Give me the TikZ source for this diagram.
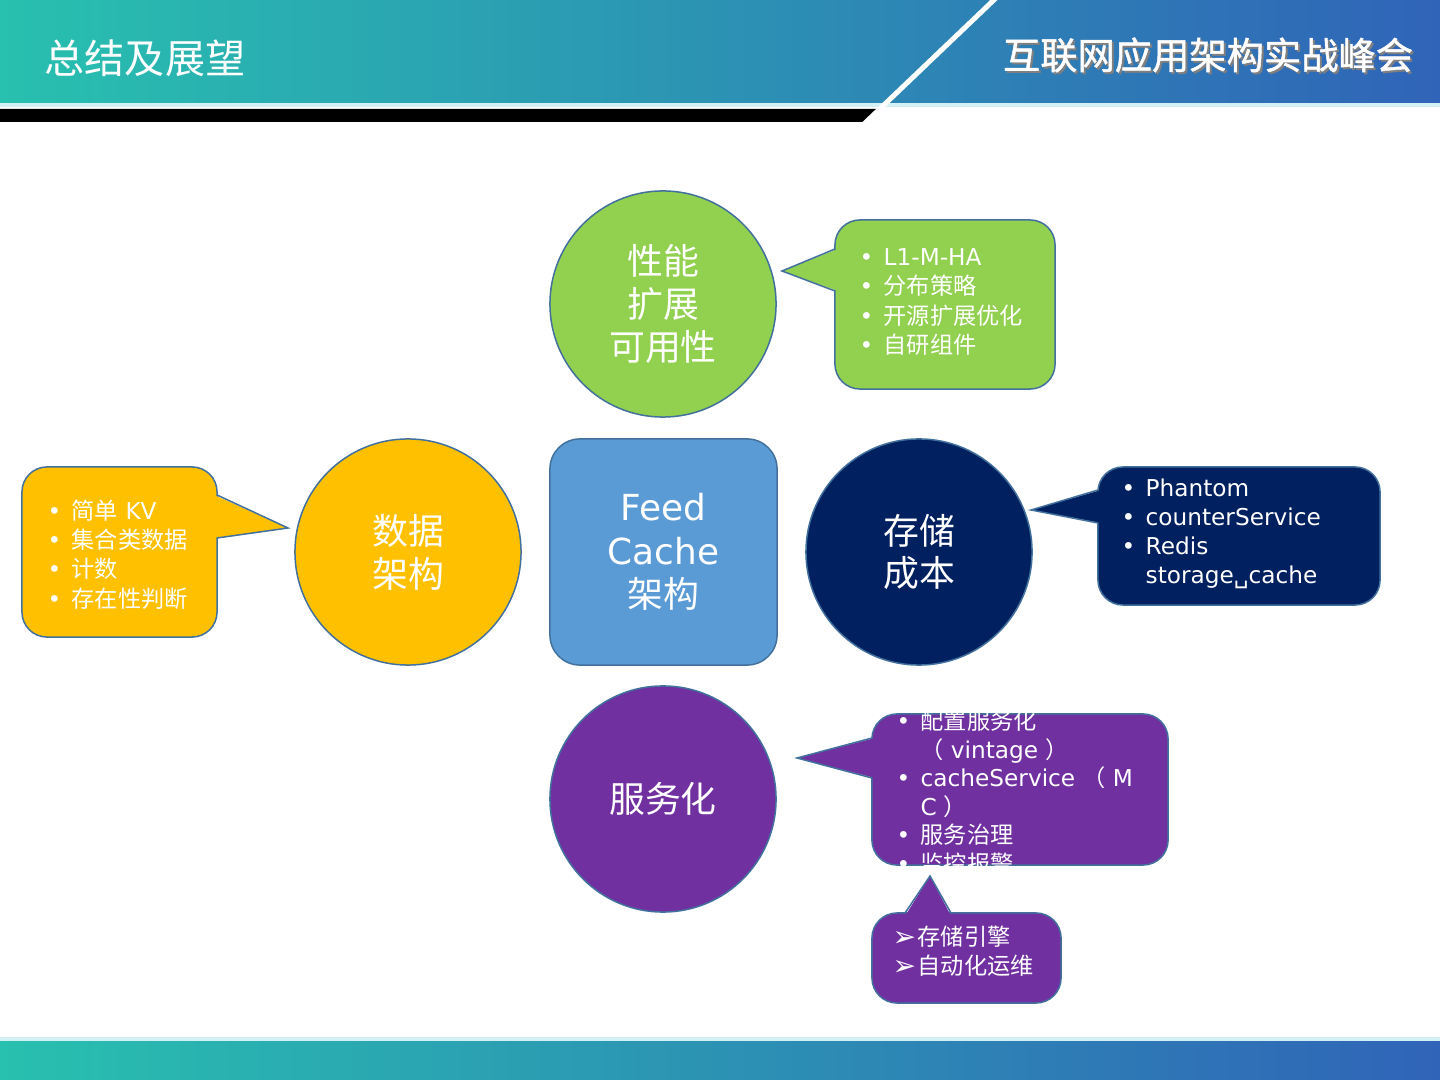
\documentclass[tikz,border=0pt]{standalone}
\usepackage{fontspec}
\setmainfont{DejaVu Sans}
\newfontfamily\cjk{Noto Sans CJK SC}
\newfontfamily\cjkbrand[FakeBold=1.2]{Noto Sans CJK SC}
\usetikzlibrary{shapes.geometric, positioning}
\definecolor{perfGreen}{HTML}{92D050}
\definecolor{dataOrange}{HTML}{FFC000}
\definecolor{costNavy}{HTML}{002060}
\definecolor{feedBlue}{HTML}{5B9BD5}
\definecolor{svcPurple}{HTML}{7030A0}
\definecolor{shapeEdge}{HTML}{41719C}
\definecolor{bandTeal}{HTML}{28C0AF}
\definecolor{bandMid}{HTML}{1C9DC0}
\definecolor{bandBlue}{HTML}{3064B8}
\definecolor{bandLine}{HTML}{D3F0F5}

\newcommand{\itm}{\makebox[0.24cm][l]{•}}
\newcommand{\ind}{\hspace{0.24cm}}
\newcommand{\arw}{\makebox[0.25cm][l]{\raisebox{-0.2pt}{\fontsize{8}{8}\selectfont ➢}}}
\newcommand{\paro}{{\cjk （}\hspace{0.07cm}}
\newcommand{\parc}{\hspace{0.07cm}{\cjk ）}}

\begin{document}
\begin{tikzpicture}[x=0.01cm, y=-0.01cm,
    topic/.style={circle, draw=shapeEdge, line width=0.015cm, minimum size=2.26cm, inner sep=0pt, text=white, align=center, font=\cjk\fontsize{10.2}{12.2}\selectfont},
    note/.style={draw=shapeEdge, line width=0.015cm, rounded corners=0.25cm, inner sep=0pt},
    notetext/.style={text=white, align=left, inner sep=0pt, anchor=west, font=\fontsize{6.6}{8.3}\selectfont},
    pointer/.style={draw=shapeEdge, line width=0.015cm},
]
    \useasboundingbox (0,0) rectangle (1440,1080);
    \fill[white] (0,0) rectangle (1440,1080);

    % header and footer bands
    \shade[left color=bandTeal, middle color=bandMid, right color=bandBlue] (0,0) rectangle (1440,103);
    \fill[bandLine] (0,103) rectangle (1440,107);
    \fill[black] (0,109) -- (877,109) -- (863,122) -- (0,122) -- cycle;
    \draw[white, line width=0.05cm] (997,-3) -- (864,124);
    \node[text=white, font=\cjk\fontsize{11.4}{13}\selectfont] (title) at (145,58) {总结及展望};
    \node[text=black!50, font=\cjkbrand\fontsize{10.6}{12}\selectfont] (brandShadow) at (1210,57) {互联网应用架构实战峰会};
    \node[text=white, font=\cjkbrand\fontsize{10.6}{12}\selectfont] (brand) at (1208,55) {互联网应用架构实战峰会};
    \fill[bandLine] (0,1037) rectangle (1440,1041);
    \shade[left color=bandTeal, middle color=bandMid, right color=bandBlue] (0,1041) rectangle (1440,1080);

    % centre and topics
    \node[draw=shapeEdge, line width=0.015cm, fill=feedBlue, rounded corners=0.3cm, minimum width=2.27cm, minimum height=2.26cm,
          text=white, align=center, font=\fontsize{10.2}{12.3}\selectfont] (feed) at (663.5,552) {Feed\\Cache\\{\cjk 架构}};
    \node[topic, fill=perfGreen] (perf) at (663,304) {性能\\扩展\\可用性};
    \node[topic, fill=dataOrange] (data) at (408,552) {数据\\架构};
    \node[topic, fill=costNavy] (cost) at (919,552) {存储\\成本};
    \node[topic, fill=svcPurple] (svc) at (663,799) {服务化};

    % performance note
    \node[note, fill=perfGreen, minimum width=2.2cm, minimum height=1.69cm] (perfNote) at (945,304.5) {};
    \coordinate (perfTip) at (782,271);
    \fill[perfGreen] (838,249) -- (perfTip) -- (838,291) -- cycle;
    \draw[pointer] (835,249) -- (perfTip) -- (835,291);
    \node[notetext] (perfText) at (859,302) {\itm L1-M-HA\\ \itm{\cjk 分布策略}\\ \itm{\cjk 开源扩展优化}\\ \itm{\cjk 自研组件}};

    % data note
    \node[note, fill=dataOrange, minimum width=1.95cm, minimum height=1.7cm] (dataNote) at (119.5,552) {};
    \coordinate (dataTip) at (288,528);
    \fill[dataOrange] (214,495) -- (dataTip) -- (214,538) -- cycle;
    \draw[pointer] (217,495) -- (dataTip) -- (217,538);
    \node[notetext] (dataText) at (47,554.5) {\itm{\cjk 简单} KV\\ \itm{\cjk 集合类数据}\\ \itm{\cjk 计数}\\ \itm{\cjk 存在性判断}};

    % cost note
    \node[note, fill=costNavy, minimum width=2.82cm, minimum height=1.38cm] (costNote) at (1239,536) {};
    \coordinate (costTip) at (1031,510);
    \fill[costNavy] (1101,490) -- (costTip) -- (1101,523) -- cycle;
    \draw[pointer] (1098,490) -- (costTip) -- (1098,523);
    \node[notetext] (costText) at (1121,534) {\itm Phantom\\ \itm counterService\\ \itm Redis\\ \ind storage␣cache};

    % service note
    \node[note, fill=svcPurple, minimum width=2.96cm, minimum height=1.51cm] (svcNote) at (1020,789.5) {};
    \coordinate (svcTip) at (797,758);
    \fill[svcPurple] (875,738) -- (svcTip) -- (875,778) -- cycle;
    \draw[pointer] (872,738) -- (svcTip) -- (872,778);
    \node[notetext, font=\fontsize{6.6}{8.1}\selectfont] (svcText) at (896,792) {\itm{\cjk 配置服务化}\\ \ind\paro vintage\parc\\ \itm cacheService \paro M\\ \ind C\parc\\ \itm{\cjk 服务治理}\\ \itm{\cjk 监控报警}};

    % outlook note
    \node[note, fill=svcPurple, minimum width=1.89cm, minimum height=0.9cm] (nextNote) at (966.5,958) {};
    \coordinate (nextTip) at (930,876);
    \fill[svcPurple] (905,916) -- (nextTip) -- (951,916) -- cycle;
    \draw[pointer] (905,913) -- (nextTip) -- (951,913);
    \node[notetext] (nextText) at (892,951.5) {\arw{\cjk 存储引擎}\\ \arw{\cjk 自动化运维}};
\end{tikzpicture}
\end{document}
